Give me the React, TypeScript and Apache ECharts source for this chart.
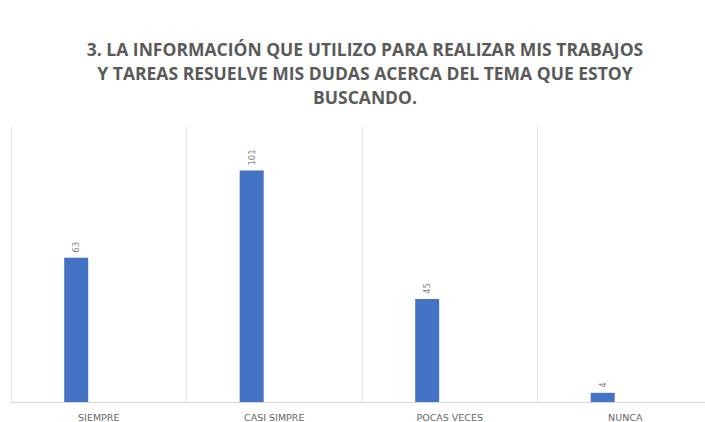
import React, { useEffect, useRef } from "react";
import * as echarts from "echarts";

const titleLines = [
  "3. LA INFORMACIÓN QUE UTILIZO PARA REALIZAR MIS TRABAJOS",
  "Y TAREAS RESUELVE MIS DUDAS ACERCA DEL TEMA QUE ESTOY",
  "BUSCANDO.",
];
const categories = ["SIEMPRE", "CASI SIMPRE", "POCAS VECES", "NUNCA"];
const values = [63, 101, 45, 4];
const emptyValues: (number | null)[] = [null, null, null, null];

export default function App() {
  const ref = useRef<HTMLDivElement>(null);
  useEffect(() => {
    document.body.style.margin = "0";
    if (!ref.current) return;
    const chart = echarts.init(ref.current, undefined, { renderer: "svg" });
    chart.setOption({
      animation: false,
      backgroundColor: "#ffffff",
      title: {
        text: titleLines.join("\n"),
        left: 360,
        top: 32,
        textAlign: "center",
        textStyle: {
          fontFamily: "Open Sans",
          fontWeight: "bold",
          fontSize: 17.5,
          lineHeight: 24,
          color: "#5a5a5a",
        },
      },
      grid: { left: 11, right: 0, top: 127, bottom: 19, containLabel: false },
      xAxis: {
        type: "category",
        data: categories,
        boundaryGap: true,
        axisLine: { show: true, lineStyle: { color: "#d9d9d9", width: 1 } },
        axisTick: { show: false },
        splitLine: { show: true, lineStyle: { color: "#e3e3e3", width: 1 } },
        axisLabel: {
          color: "#666666",
          fontFamily: "DejaVu Sans",
          fontSize: 9.5,
          margin: 10,
          interval: 0,
        },
      },
      yAxis: {
        type: "value",
        min: 0,
        max: 120,
        show: false,
        splitLine: { show: false },
      },
      series: [
        {
          type: "bar",
          data: values,
          barWidth: 24,
          barGap: "88%",
          itemStyle: { color: "#4472C4" },
          label: {
            show: true,
            position: "top",
            rotate: 90,
            align: "left",
            verticalAlign: "middle",
            distance: 5,
            color: "#7f7f7f",
            fontFamily: "DejaVu Sans",
            fontSize: 8.5,
          },
        },
        {
          type: "bar",
          data: emptyValues,
          barWidth: 24,
          itemStyle: { color: "#ED7D31" },
        },
      ],
    });
    return () => chart.dispose();
  }, []);
  return (
    <div style={{ width: 705, height: 422, overflow: "hidden" }}>
      <div ref={ref} style={{ width: 713, height: 422 }} />
    </div>
  );
}
